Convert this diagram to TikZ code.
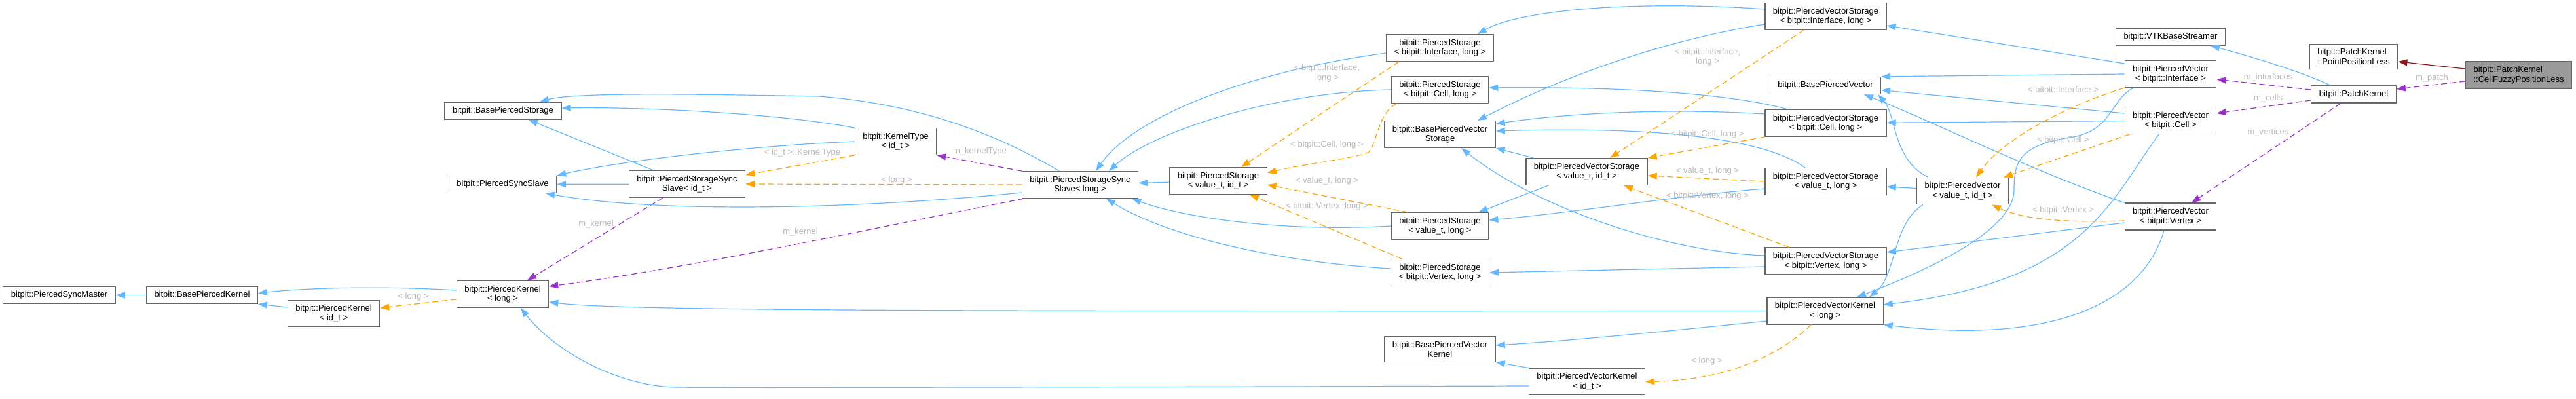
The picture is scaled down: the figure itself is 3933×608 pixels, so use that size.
\documentclass[tikz,border=0pt]{standalone}
\usepackage{xcolor}
\usepackage{fontspec}
\setmainfont{Liberation Sans}
\usepackage{tikz}
\usetikzlibrary{arrows.meta}
\definecolor{boxgray}{RGB}{102,102,102}
\definecolor{mainfill}{RGB}{153,153,153}
\definecolor{inhblue}{RGB}{99,184,255}
\definecolor{tplorange}{RGB}{255,165,0}
\definecolor{usepurple}{RGB}{154,50,205}
\definecolor{privred}{RGB}{139,26,26}
\definecolor{lblgray}{RGB}{185,185,185}
\begin{document}
\begin{tikzpicture}[x=1pt,y=-1pt,
    box/.style={draw=boxgray,fill=white,line width=1.2pt,inner xsep=12pt,inner ysep=7pt,
      minimum height=26pt,align=center,font=\fontsize{13}{14.7}\selectfont},
    lbl/.style={text=lblgray,align=center,inner sep=0pt,font=\fontsize{13}{14.7}\selectfont},
    inh/.style={draw=inhblue,line width=1.2pt,-{Triangle[length=14pt,width=10pt]}},
    tpl/.style={draw=tplorange,line width=1.2pt,dash pattern=on 9pt off 5pt,-{Triangle[length=14pt,width=10pt]}},
    use/.style={draw=usepurple,line width=1.2pt,dash pattern=on 9pt off 5pt,-{Triangle[length=14pt,width=10pt]}},
    priv/.style={draw=privred,line width=1.2pt,-{Triangle[length=14pt,width=10pt]}}]
    \useasboundingbox[fill=white] (0,0) rectangle (3933,608);

    \node[box] (syncmaster) at (90.5,450.5) {bitpit::PiercedSyncMaster};
    \node[box] (basekernel) at (308.5,450.5) {bitpit::BasePiercedKernel};
    \node[box] (kernelid) at (509.5,478.5) {bitpit::PiercedKernel\\< id\_t >};
    \node[box] (basestorage) at (768,169) {bitpit::BasePiercedStorage};
    \node[box] (syncslave) at (767.5,281.5) {bitpit::PiercedSyncSlave};
    \node[box] (kernellong) at (767.5,449) {bitpit::PiercedKernel\\< long >};
    \node[box] (slaveid) at (1049,281) {bitpit::PiercedStorageSync\\Slave< id\_t >};
    \node[box] (kerneltype) at (1367.5,216) {bitpit::KernelType\\< id\_t >};
    \node[box] (slavelong) at (1649,282) {bitpit::PiercedStorageSync\\Slave< long >};
    \node[box] (storageid) at (1860,276) {bitpit::PiercedStorage\\< value\_t, id\_t >};
    \node[box] (storageiface) at (2198.5,73) {bitpit::PiercedStorage\\< bitpit::Interface, long >};
    \node[box] (storagecell) at (2198.5,137) {bitpit::PiercedStorage\\< bitpit::Cell, long >};
    \node[box] (basevecstorage) at (2198.5,205) {bitpit::BasePiercedVector\\Storage};
    \node[box] (storagelong) at (2198.5,345) {bitpit::PiercedStorage\\< value\_t, long >};
    \node[box] (storagevert) at (2198.5,416) {bitpit::PiercedStorage\\< bitpit::Vertex, long >};
    \node[box] (basevectkernel) at (2198.5,533) {bitpit::BasePiercedVector\\Kernel};
    \node[box] (vecstorageid) at (2422.5,262) {bitpit::PiercedVectorStorage\\< value\_t, id\_t >};
    \node[box] (veckernelid) at (2423,582.5) {bitpit::PiercedVectorKernel\\< id\_t >};
    \node[box] (vecstorageiface) at (2787.5,25) {bitpit::PiercedVectorStorage\\< bitpit::Interface, long >};
    \node[box] (basevector) at (2787,130.5) {bitpit::BasePiercedVector};
    \node[box] (vecstoragecell) at (2787.5,188) {bitpit::PiercedVectorStorage\\< bitpit::Cell, long >};
    \node[box] (vecstoragelong) at (2787.5,277) {bitpit::PiercedVectorStorage\\< value\_t, long >};
    \node[box] (vecstoragevert) at (2787.5,398.5) {bitpit::PiercedVectorStorage\\< bitpit::Vertex, long >};
    \node[box] (veckernellong) at (2786.5,474.5) {bitpit::PiercedVectorKernel\\< long >};
    \node[box] (vectorid) at (2996.5,291.5) {bitpit::PiercedVector\\< value\_t, id\_t >};
    \node[box] (vtkstreamer) at (3314,56) {bitpit::VTKBaseStreamer};
    \node[box] (vectoriface) at (3314,113) {bitpit::PiercedVector\\< bitpit::Interface >};
    \node[box] (vectorcell) at (3314,184) {bitpit::PiercedVector\\< bitpit::Cell >};
    \node[box] (vectorvert) at (3314,330.5) {bitpit::PiercedVector\\< bitpit::Vertex >};
    \node[box,align=left] (pointless) at (3593.5,86.5) {bitpit::PatchKernel\\::PointPositionLess};
    \node[box] (patchkernel) at (3593.5,144) {bitpit::PatchKernel};
    \node[box,align=left,fill=mainfill] (cellfuzzy) at (3845.5,114.5) {bitpit::PatchKernel\\::CellFuzzyPositionLess};

    \draw[inh] (basekernel) -- (syncmaster);
    \draw[inh] ([yshift=6pt]kernellong.west) .. controls (600,437) and (480,438) .. ([yshift=3pt]basekernel.east);
    \draw[inh] ([yshift=9.5pt]kernelid.west) -- (basekernel.south east);
    \draw[tpl] ([yshift=-8pt]kernellong.west) -- ([yshift=8.5pt]kernelid.east);
    \draw[inh] ([xshift=-51pt]slaveid.north) -- ([xshift=39pt]basestorage.south);
    \draw[inh] (slaveid) -- (syncslave);
    \draw[use] ([xshift=-37pt]slaveid.south) -- ([xshift=37.5pt]kernellong.north);
    \draw[use] ([xshift=4pt]slavelong.south west) .. controls (1350,345) and (1050,410) .. ([yshift=12pt]kernellong.east);
    \draw[inh] ([xshift=-32pt]slavelong.north) .. controls (1540,215) and (1420,160) .. (1250,147)
      .. controls (1080,144) and (880,140) .. ([xshift=56pt]basestorage.north);
    \draw[inh] (kerneltype.north west) .. controls (1200,175) and (1000,163) .. ([yshift=4pt]basestorage.east);
    \draw[inh] (kerneltype.west) .. controls (1150,222) and (950,245) .. (syncslave.north east);
    \draw[inh] ([yshift=-12pt]slavelong.west) .. controls (1300,320) and (1000,325) .. ([xshift=-17pt]syncslave.south east);
    \draw[tpl] (kerneltype.south west) -- ([yshift=14pt]slaveid.east);
    \draw[tpl] (slavelong.west) -- (slaveid.east);
    \draw[use] (slavelong.north west) -- (kerneltype.south east);
    \draw[inh] (storageid) -- (slavelong);
    \draw[inh] ([yshift=-8pt]storageiface.west) .. controls (1900,110) and (1730,180) .. ([xshift=24pt]slavelong.north);
    \draw[inh] (storagecell.west) .. controls (1950,140) and (1760,200) .. ([xshift=44pt]slavelong.north);
    \draw[inh] (storagelong.west) .. controls (1950,355) and (1800,330) .. ([xshift=-10pt]slavelong.south east);
    \draw[inh] ([yshift=6pt]storagevert.west) .. controls (1950,400) and (1780,360) .. ([xshift=40pt]slavelong.south);
    \draw[tpl] ([xshift=-62.5pt]storageiface.south) -- ([xshift=35pt]storageid.north);
    \draw[tpl] ([xshift=-66.5pt]storagecell.south) .. controls (2105,172) and (2103,215) .. (2090,232)
      .. controls (2070,242) and (1990,250) .. ([yshift=12pt]storageid.east);
    \draw[tpl] ([xshift=-48.5pt]storagelong.north) -- ([yshift=-6pt]storageid.east);
    \draw[tpl] ([xshift=-58.5pt]storagevert.north) -- ([xshift=48pt]storageid.south);

    \draw[inh] ([yshift=11pt]vecstorageiface.west) .. controls (2500,0) and (2320,15) .. ([xshift=57.5pt]storageiface.north);
    \draw[inh] ([yshift=-12pt]vecstorageiface.west) .. controls (2550,60) and (2400,110) .. ([xshift=57.5pt]basevecstorage.north);
    \draw[inh] ([xshift=-57.5pt]vecstoragecell.north) .. controls (2650,145) and (2500,132) .. ([yshift=3pt]storagecell.east);
    \draw[inh] ([yshift=14pt]vecstoragecell.west) .. controls (2550,165) and (2400,172) .. ([yshift=16pt]basevecstorage.east);
    \draw[inh] ([xshift=-31.5pt]vecstoragelong.north) .. controls (2700,215) and (2550,192) .. ([yshift=5pt]basevecstorage.east);
    \draw[inh] ([xshift=12pt]vecstorageid.north west) -- (basevecstorage.south east);
    \draw[inh] ([xshift=35pt]vecstorageid.south west) -- ([xshift=-16pt]storagelong.north east);
    \draw[inh] ([yshift=-11pt]vecstoragelong.west) .. controls (2550,300) and (2400,325) .. ([yshift=9pt]storagelong.east);
    \draw[inh] ([yshift=8.5pt]vecstoragevert.west) .. controls (2550,385) and (2350,320) .. ([xshift=32.5pt]basevecstorage.south);
    \draw[inh] ([yshift=-8.5pt]vecstoragevert.west) -- (storagevert.east);
    \draw[inh] (veckernellong.west) .. controls (1500,475) and (950,475) .. ([yshift=-12pt]kernellong.east);
    \draw[inh] ([yshift=-15.5pt]veckernellong.west) .. controls (2550,505) and (2400,520) .. ([yshift=6pt]basevectkernel.east);
    \draw[inh] (veckernelid.north west) -- (basevectkernel.south east);
    \draw[inh] ([yshift=-6.5pt]veckernelid.west) .. controls (1600,591) and (1100,592) .. (1035,591)
      .. controls (950,591) and (850,540) .. ([xshift=27.5pt]kernellong.south);
    \draw[tpl] ([xshift=-21.5pt]veckernellong.south) .. controls (2720,540) and (2640,580) .. (veckernelid.east);
    \draw[tpl] ([xshift=-33.5pt]vecstorageiface.south) -- ([xshift=35.5pt]vecstorageid.north);
    \draw[tpl] (vecstoragecell.south west) -- (vecstorageid.north east);
    \draw[tpl] (vecstoragelong.west) -- ([yshift=-6pt]vecstorageid.east);
    \draw[tpl] ([xshift=-55.5pt]vecstoragevert.north) -- ([xshift=56.5pt]vecstorageid.south);

    \draw[inh] ([yshift=16pt]vectoriface.west) -- ([yshift=-14pt]vecstorageiface.east);
    \draw[inh] (vectoriface.west) -- (basevector.north east);
    \draw[inh] ([yshift=11pt]vectorcell.west) -- ([yshift=-7pt]basevector.east);
    \draw[inh] (vectorvert.north west) .. controls (3100,260) and (2950,185) .. ([xshift=59pt]basevector.south);
    \draw[inh] ([xshift=18pt]vectorid.north west) .. controls (2890,245) and (2895,175) .. ([xshift=-5pt]basevector.south east);
    \draw[inh] (vectorcell) -- (vecstoragecell);
    \draw[inh] ([yshift=4pt]vectorid.west) -- ([yshift=-8pt]vecstoragelong.east);
    \draw[inh] ([yshift=-9.5pt]vectorvert.west) -- ([yshift=13.5pt]vecstoragevert.east);
    \draw[inh] ([xshift=-57pt]vectoriface.south) .. controls (3220,155) and (3225,200) .. (3160,210)
      .. controls (3080,222) and (3075,250) .. (3075,290)
      .. controls (3075,350) and (2950,410) .. ([xshift=48.5pt]veckernellong.north);
    \draw[inh] ([xshift=10pt]vectorid.south west) .. controls (2890,340) and (2895,420) .. ([xshift=67.5pt]veckernellong.north);
    \draw[inh] ([xshift=-18pt]vectorcell.south) .. controls (3220,310) and (3180,430) .. ([yshift=9.5pt]veckernellong.east);
    \draw[inh] ([xshift=-10pt]vectorvert.south) .. controls (3270,470) and (3120,525) .. (veckernellong.south east);
    \draw[tpl] (vectoriface.south west) .. controls (3160,160) and (3060,210) .. ([xshift=20.5pt]vectorid.north);
    \draw[tpl] ([xshift=8pt]vectorcell.south west) -- ([xshift=-8pt]vectorid.north east);
    \draw[tpl] ([yshift=-6.5pt]vectorvert.west) .. controls (3150,340) and (3090,335) .. ([xshift=44.5pt]vectorid.south);

    \draw[use] ([yshift=7pt]patchkernel.west) -- ([yshift=-8pt]vectoriface.east);
    \draw[use] ([yshift=-9pt]patchkernel.west) -- ([yshift=11pt]vectorcell.east);
    \draw[use] ([xshift=-19.5pt]patchkernel.south) -- ([xshift=32pt]vectorvert.north);
    \draw[inh] ([xshift=-35.5pt]patchkernel.north) .. controls (3520,112) and (3450,90) .. ([xshift=61pt]vtkstreamer.south);
    \draw[priv] ([yshift=9.5pt]cellfuzzy.west) -- ([yshift=-7.5pt]pointless.east);
    \draw[use] ([yshift=-9.5pt]cellfuzzy.west) -- ([yshift=8pt]patchkernel.east);

    \node[lbl] (lkernel) at (631,453) {< long >};
    \node[lbl] (lslavekernel) at (910,342) {m\_kernel};
    \node[lbl] (llongkernel) at (1222,354) {m\_kernel};
    \node[lbl] (lkerneltype) at (1225,233) {< id\_t >::KernelType};
    \node[lbl] (lslave) at (1369,275) {< long >};
    \node[lbl] (lmkerneltype) at (1496,231) {m\_kernelType};
    \node[lbl] (lstiface) at (2026,111.5) {< bitpit::Interface,\\long >};
    \node[lbl] (lstcell) at (2026,221) {< bitpit::Cell, long >};
    \node[lbl] (lstlong) at (2026,276) {< value\_t, long >};
    \node[lbl] (lstvert) at (2026,315) {< bitpit::Vertex, long >};
    \node[lbl] (lvsiface) at (2607,87) {< bitpit::Interface,\\long >};
    \node[lbl] (lvscell) at (2607,205) {< bitpit::Cell, long >};
    \node[lbl] (lvslong) at (2607,261) {< value\_t, long >};
    \node[lbl] (lvsvert) at (2607,299) {< bitpit::Vertex, long >};
    \node[lbl] (lveckernel) at (2606,551) {< long >};
    \node[lbl] (lveciface) at (3150,138) {< bitpit::Interface >};
    \node[lbl] (lveccell) at (3150,214) {< bitpit::Cell >};
    \node[lbl] (lvecvert) at (3150,321) {< bitpit::Vertex >};
    \node[lbl] (linterfaces) at (3463,118) {m\_interfaces};
    \node[lbl] (lcells) at (3463,150) {m\_cells};
    \node[lbl] (lvertices) at (3463,202) {m\_vertices};
    \node[lbl] (lpatch) at (3713,119) {m\_patch};
\end{tikzpicture}
\end{document}
